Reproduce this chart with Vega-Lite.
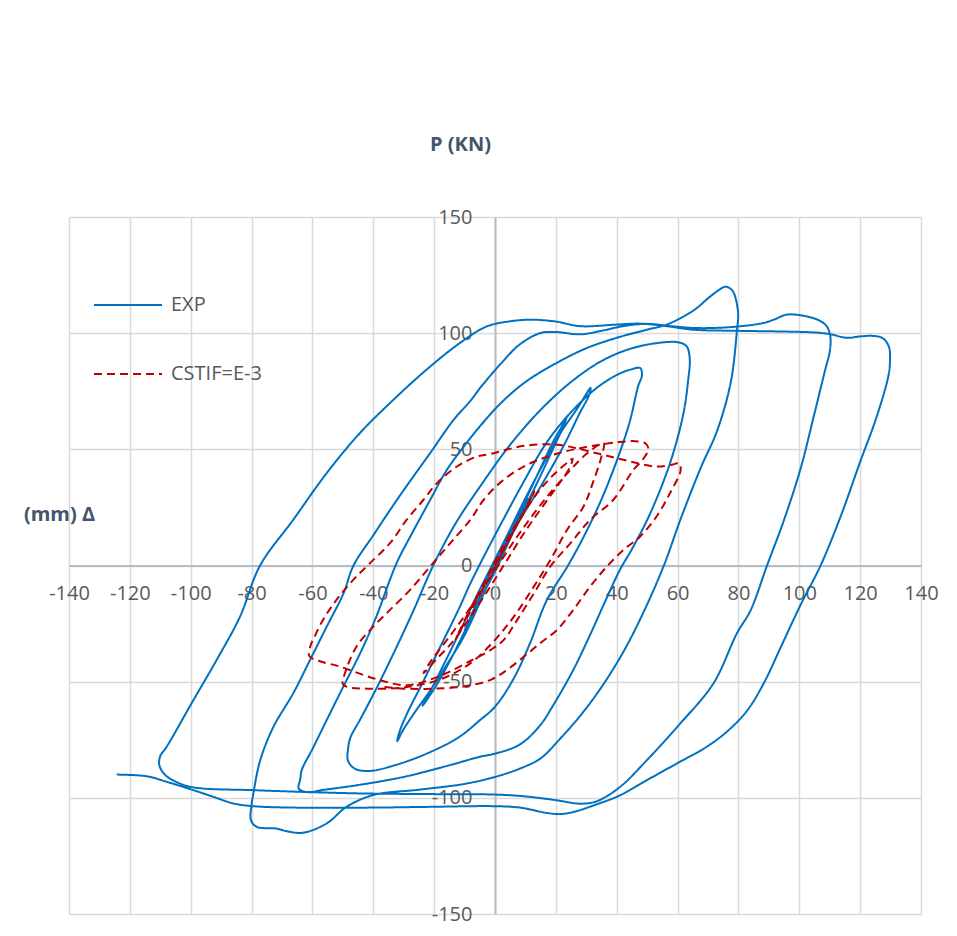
{
"$schema":"https://vega.github.io/schema/vega-lite/v6.json",
"width":852,"height":697,
"autosize":{"type":"none"},
"padding":{"left":69,"top":217,"right":36,"bottom":22},
"background":"white",
"config":{"view":{"stroke":null},"font":"Open Sans",
"legend":{"orient":"none","legendX":24,"legendY":53,"symbolType":"stroke","symbolSize":4624,"symbolStrokeWidth":2,"labelFontSize":20,"labelColor":"#595959","labelOffset":8,"rowPadding":24,"title":null,"labelFont":"Open Sans"}},
"data":{"values":[
{"s":"EXP","x":0,"y":0},{"s":"EXP","x":3,"y":8},{"s":"EXP","x":6,"y":16},{"s":"EXP","x":9,"y":24},{"s":"EXP","x":11,"y":29},{"s":"EXP","x":9,"y":24},{"s":"EXP","x":5,"y":12},{"s":"EXP","x":1,"y":0},{"s":"EXP","x":-3,"y":-10},{"s":"EXP","x":-7,"y":-20},{"s":"EXP","x":-10,"y":-28},{"s":"EXP","x":-8,"y":-22},{"s":"EXP","x":-4,"y":-10},{"s":"EXP","x":0,"y":1},{"s":"EXP","x":5,"y":14},{"s":"EXP","x":10,"y":28},{"s":"EXP","x":15,"y":42},{"s":"EXP","x":19,"y":53},{"s":"EXP","x":22,"y":60},{"s":"EXP","x":23.5,"y":63.8},
{"s":"EXP","x":22.5,"y":60},{"s":"EXP","x":19,"y":50},{"s":"EXP","x":14,"y":36},{"s":"EXP","x":8,"y":20},{"s":"EXP","x":3,"y":6},{"s":"EXP","x":-2,"y":-7},{"s":"EXP","x":-8,"y":-23},{"s":"EXP","x":-14,"y":-39},{"s":"EXP","x":-19,"y":-51},{"s":"EXP","x":-22.5,"y":-58},{"s":"EXP","x":-23.8,"y":-60.3},
{"s":"EXP","x":-22,"y":-56},{"s":"EXP","x":-17,"y":-43},{"s":"EXP","x":-11,"y":-27},{"s":"EXP","x":-6,"y":-13},{"s":"EXP","x":-1,"y":0},{"s":"EXP","x":4,"y":13},{"s":"EXP","x":10,"y":29},{"s":"EXP","x":16,"y":44},{"s":"EXP","x":22,"y":58},{"s":"EXP","x":27,"y":67.5},{"s":"EXP","x":31.4,"y":76.4},
{"s":"EXP","x":30.8,"y":73},{"s":"EXP","x":28,"y":66},{"s":"EXP","x":22.5,"y":51.4},{"s":"EXP","x":15,"y":34},{"s":"EXP","x":8.2,"y":19.6},{"s":"EXP","x":3,"y":7},{"s":"EXP","x":-1,"y":-4},{"s":"EXP","x":-5,"y":-16},{"s":"EXP","x":-10.4,"y":-31},{"s":"EXP","x":-16,"y":-43},{"s":"EXP","x":-21.4,"y":-54},{"s":"EXP","x":-26.8,"y":-64},{"s":"EXP","x":-30.5,"y":-71.5},{"s":"EXP","x":-32.1,"y":-75.6},
{"s":"EXP","x":-31.5,"y":-72},{"s":"EXP","x":-29,"y":-64},{"s":"EXP","x":-24,"y":-51},{"s":"EXP","x":-18,"y":-35},{"s":"EXP","x":-12,"y":-19},{"s":"EXP","x":-8.2,"y":-8},{"s":"EXP","x":-4,"y":3},{"s":"EXP","x":2,"y":18},{"s":"EXP","x":9,"y":35},{"s":"EXP","x":17,"y":53},{"s":"EXP","x":25,"y":66},{"s":"EXP","x":33,"y":76},{"s":"EXP","x":40,"y":82},{"s":"EXP","x":45,"y":84.5},{"s":"EXP","x":47.7,"y":85},
{"s":"EXP","x":48.3,"y":82},{"s":"EXP","x":47,"y":77},{"s":"EXP","x":44.3,"y":62},{"s":"EXP","x":40,"y":45},{"s":"EXP","x":34.5,"y":27},{"s":"EXP","x":29,"y":12},{"s":"EXP","x":24,"y":0},{"s":"EXP","x":17,"y":-15},{"s":"EXP","x":11.5,"y":-33.5},{"s":"EXP","x":6,"y":-49},{"s":"EXP","x":0,"y":-60.8},{"s":"EXP","x":-4.9,"y":-66.5},{"s":"EXP","x":-12,"y":-74},{"s":"EXP","x":-22.5,"y":-81},{"s":"EXP","x":-33,"y":-86},{"s":"EXP","x":-41,"y":-88.4},{"s":"EXP","x":-46,"y":-87.5},{"s":"EXP","x":-48.3,"y":-84},{"s":"EXP","x":-48.3,"y":-79},
{"s":"EXP","x":-47.5,"y":-74},{"s":"EXP","x":-44.4,"y":-66.5},{"s":"EXP","x":-39,"y":-53},{"s":"EXP","x":-33.4,"y":-38},{"s":"EXP","x":-27,"y":-20},{"s":"EXP","x":-20.3,"y":0},{"s":"EXP","x":-13,"y":18},{"s":"EXP","x":-4.9,"y":34},{"s":"EXP","x":5,"y":52},{"s":"EXP","x":15,"y":67},{"s":"EXP","x":25,"y":79},{"s":"EXP","x":35,"y":88},{"s":"EXP","x":45,"y":93.5},{"s":"EXP","x":55,"y":96},{"s":"EXP","x":60.5,"y":96},{"s":"EXP","x":63,"y":94.3},
{"s":"EXP","x":64,"y":89},{"s":"EXP","x":63.5,"y":80},{"s":"EXP","x":61.9,"y":65.3},{"s":"EXP","x":57.5,"y":44},{"s":"EXP","x":51,"y":22.4},{"s":"EXP","x":45.4,"y":8},{"s":"EXP","x":41,"y":-2},{"s":"EXP","x":36.7,"y":-14},{"s":"EXP","x":31.2,"y":-30},{"s":"EXP","x":25.7,"y":-45},{"s":"EXP","x":19.2,"y":-60},{"s":"EXP","x":14.7,"y":-69},{"s":"EXP","x":8.2,"y":-77},{"s":"EXP","x":0,"y":-81},{"s":"EXP","x":-4.9,"y":-82.3},{"s":"EXP","x":-15,"y":-86},{"s":"EXP","x":-30,"y":-91},{"s":"EXP","x":-45,"y":-94.5},{"s":"EXP","x":-56,"y":-96.5},{"s":"EXP","x":-62,"y":-97.5},{"s":"EXP","x":-64.5,"y":-96},{"s":"EXP","x":-64,"y":-92},
{"s":"EXP","x":-63.5,"y":-88},{"s":"EXP","x":-60,"y":-79},{"s":"EXP","x":-55.3,"y":-66.5},{"s":"EXP","x":-49.8,"y":-52},{"s":"EXP","x":-44.4,"y":-38},{"s":"EXP","x":-39,"y":-22},{"s":"EXP","x":-34.5,"y":-6},{"s":"EXP","x":-32,"y":2},{"s":"EXP","x":-26.8,"y":15},{"s":"EXP","x":-21.4,"y":28},{"s":"EXP","x":-15.9,"y":41},{"s":"EXP","x":-9.2,"y":53},{"s":"EXP","x":-4.9,"y":60},{"s":"EXP","x":2,"y":70},{"s":"EXP","x":10,"y":79},{"s":"EXP","x":20,"y":87},{"s":"EXP","x":30,"y":93.5},{"s":"EXP","x":40,"y":98},{"s":"EXP","x":50,"y":101.5},{"s":"EXP","x":56,"y":103.5},{"s":"EXP","x":61,"y":106.5},{"s":"EXP","x":66,"y":110.5},{"s":"EXP","x":70,"y":115},{"s":"EXP","x":73.5,"y":118.5},{"s":"EXP","x":75.7,"y":120},{"s":"EXP","x":77.5,"y":119},
{"s":"EXP","x":78.6,"y":117},{"s":"EXP","x":79.9,"y":108.5},{"s":"EXP","x":79.5,"y":101},{"s":"EXP","x":77.5,"y":79},{"s":"EXP","x":73,"y":58},{"s":"EXP","x":67.7,"y":42.3},{"s":"EXP","x":61,"y":20},{"s":"EXP","x":55.5,"y":0},{"s":"EXP","x":48.7,"y":-20.4},{"s":"EXP","x":42,"y":-37.6},{"s":"EXP","x":34.5,"y":-53.3},{"s":"EXP","x":28,"y":-64.7},{"s":"EXP","x":21.3,"y":-74.7},{"s":"EXP","x":15,"y":-83},{"s":"EXP","x":8,"y":-87.5},{"s":"EXP","x":0,"y":-91},{"s":"EXP","x":-10,"y":-94},{"s":"EXP","x":-25,"y":-96.5},{"s":"EXP","x":-40,"y":-98.8},{"s":"EXP","x":-48.8,"y":-103.9},{"s":"EXP","x":-55.3,"y":-111},{"s":"EXP","x":-63,"y":-115},{"s":"EXP","x":-68,"y":-114.5},{"s":"EXP","x":-72,"y":-113.2},{"s":"EXP","x":-78.3,"y":-112.5},{"s":"EXP","x":-80.2,"y":-109.6},{"s":"EXP","x":-80,"y":-103},
{"s":"EXP","x":-79.4,"y":-98},{"s":"EXP","x":-77.2,"y":-84},{"s":"EXP","x":-72.8,"y":-69.4},{"s":"EXP","x":-66.3,"y":-55},{"s":"EXP","x":-60.8,"y":-40.7},{"s":"EXP","x":-55.3,"y":-26.3},{"s":"EXP","x":-49.8,"y":-12},{"s":"EXP","x":-46.5,"y":0},{"s":"EXP","x":-40,"y":13},{"s":"EXP","x":-33.4,"y":26},{"s":"EXP","x":-27,"y":38},{"s":"EXP","x":-21.3,"y":48.4},{"s":"EXP","x":-13.6,"y":62.7},{"s":"EXP","x":-8,"y":71},{"s":"EXP","x":-4.9,"y":76.4},{"s":"EXP","x":2,"y":87},{"s":"EXP","x":8,"y":95},{"s":"EXP","x":14.8,"y":100},{"s":"EXP","x":20,"y":100.5},{"s":"EXP","x":28,"y":99.5},{"s":"EXP","x":35,"y":101},{"s":"EXP","x":42,"y":103},{"s":"EXP","x":50,"y":104},{"s":"EXP","x":58,"y":103},{"s":"EXP","x":66.3,"y":102.2},{"s":"EXP","x":77.3,"y":102.6},{"s":"EXP","x":88.3,"y":104.4},{"s":"EXP","x":92,"y":106},{"s":"EXP","x":95.9,"y":108},{"s":"EXP","x":102.5,"y":107.2},{"s":"EXP","x":106.5,"y":105.5},{"s":"EXP","x":109,"y":103},{"s":"EXP","x":110.2,"y":98.6},
{"s":"EXP","x":110,"y":92},{"s":"EXP","x":108.6,"y":84.7},{"s":"EXP","x":104.7,"y":63.9},{"s":"EXP","x":100.4,"y":41.6},{"s":"EXP","x":94.9,"y":19.3},{"s":"EXP","x":89.4,"y":0},{"s":"EXP","x":84,"y":-19.3},{"s":"EXP","x":79.5,"y":-29.2},{"s":"EXP","x":71.8,"y":-50.7},{"s":"EXP","x":60.9,"y":-68},{"s":"EXP","x":49.9,"y":-83.8},{"s":"EXP","x":41.1,"y":-95.3},{"s":"EXP","x":33.4,"y":-101.5},{"s":"EXP","x":28,"y":-102.5},{"s":"EXP","x":20,"y":-101},{"s":"EXP","x":9.3,"y":-99.3},{"s":"EXP","x":0,"y":-98.6},{"s":"EXP","x":-20,"y":-98.4},{"s":"EXP","x":-44.4,"y":-98.1},{"s":"EXP","x":-64.1,"y":-97.4},{"s":"EXP","x":-79.4,"y":-96.7},{"s":"EXP","x":-99.1,"y":-95.5},{"s":"EXP","x":-105,"y":-93},{"s":"EXP","x":-108.5,"y":-90},{"s":"EXP","x":-110.3,"y":-86},
{"s":"EXP","x":-110,"y":-82},{"s":"EXP","x":-107.9,"y":-78},{"s":"EXP","x":-99.1,"y":-57.9},{"s":"EXP","x":-91.5,"y":-40.7},{"s":"EXP","x":-83.8,"y":-22},{"s":"EXP","x":-77.2,"y":0},{"s":"EXP","x":-66.3,"y":19.7},{"s":"EXP","x":-55.3,"y":39.8},{"s":"EXP","x":-44.4,"y":57},{"s":"EXP","x":-33.4,"y":71.3},{"s":"EXP","x":-22.5,"y":84.3},{"s":"EXP","x":-11.5,"y":95.8},{"s":"EXP","x":-2.7,"y":102.9},{"s":"EXP","x":4.9,"y":105.1},{"s":"EXP","x":12,"y":105.8},{"s":"EXP","x":20,"y":105},{"s":"EXP","x":28,"y":103},{"s":"EXP","x":38.9,"y":103.6},{"s":"EXP","x":47.7,"y":104.1},{"s":"EXP","x":56.5,"y":103},{"s":"EXP","x":65,"y":101.5},{"s":"EXP","x":80,"y":101},{"s":"EXP","x":95,"y":100.7},{"s":"EXP","x":105,"y":100.3},{"s":"EXP","x":110,"y":99.6},{"s":"EXP","x":115.6,"y":98},{"s":"EXP","x":120,"y":98.6},{"s":"EXP","x":124.4,"y":98.8},{"s":"EXP","x":127.5,"y":97.8},{"s":"EXP","x":129.5,"y":94},{"s":"EXP","x":129.8,"y":88},{"s":"EXP","x":129.3,"y":81.7},{"s":"EXP","x":125.4,"y":63.9},{"s":"EXP","x":120,"y":44.6},{"s":"EXP","x":113.5,"y":20.8},{"s":"EXP","x":107,"y":0},
{"s":"EXP","x":100.4,"y":-17},{"s":"EXP","x":93.8,"y":-35.5},{"s":"EXP","x":88.4,"y":-50.5},{"s":"EXP","x":82.9,"y":-62.4},{"s":"EXP","x":76.4,"y":-71.3},{"s":"EXP","x":69.6,"y":-78},{"s":"EXP","x":59.8,"y":-85.2},{"s":"EXP","x":49.9,"y":-92.4},{"s":"EXP","x":41.1,"y":-98.9},{"s":"EXP","x":33,"y":-103},{"s":"EXP","x":26,"y":-106},{"s":"EXP","x":21.4,"y":-107},{"s":"EXP","x":17,"y":-106.5},{"s":"EXP","x":8.2,"y":-104.2},{"s":"EXP","x":0,"y":-103.6},{"s":"EXP","x":-22.5,"y":-103.9},{"s":"EXP","x":-40,"y":-104.2},{"s":"EXP","x":-66.3,"y":-104.2},{"s":"EXP","x":-79.4,"y":-103.6},{"s":"EXP","x":-86,"y":-102.4},{"s":"EXP","x":-92.5,"y":-99.6},{"s":"EXP","x":-99.1,"y":-96.7},{"s":"EXP","x":-107.9,"y":-93.1},{"s":"EXP","x":-114.5,"y":-90.7},{"s":"EXP","x":-124.3,"y":-90},
{"s":"CSTIF=E-3","x":0,"y":0},{"s":"CSTIF=E-3","x":5,"y":12},{"s":"CSTIF=E-3","x":10,"y":24},{"s":"CSTIF=E-3","x":13,"y":32},{"s":"CSTIF=E-3","x":9,"y":22},{"s":"CSTIF=E-3","x":3,"y":7},{"s":"CSTIF=E-3","x":-3,"y":-8},{"s":"CSTIF=E-3","x":-9,"y":-22},{"s":"CSTIF=E-3","x":-13,"y":-32},{"s":"CSTIF=E-3","x":-9,"y":-21},{"s":"CSTIF=E-3","x":-3,"y":-6},{"s":"CSTIF=E-3","x":3,"y":9},{"s":"CSTIF=E-3","x":9,"y":22},{"s":"CSTIF=E-3","x":15,"y":33},{"s":"CSTIF=E-3","x":20,"y":40},{"s":"CSTIF=E-3","x":24,"y":44.5},{"s":"CSTIF=E-3","x":25.5,"y":46},
{"s":"CSTIF=E-3","x":24.5,"y":42},{"s":"CSTIF=E-3","x":20.4,"y":34},{"s":"CSTIF=E-3","x":14.9,"y":24},{"s":"CSTIF=E-3","x":9.5,"y":13.9},{"s":"CSTIF=E-3","x":4,"y":2.4},{"s":"CSTIF=E-3","x":-2,"y":-10},{"s":"CSTIF=E-3","x":-8,"y":-22},{"s":"CSTIF=E-3","x":-14,"y":-33},{"s":"CSTIF=E-3","x":-19,"y":-40},{"s":"CSTIF=E-3","x":-23.5,"y":-46.3},
{"s":"CSTIF=E-3","x":-21.5,"y":-42},{"s":"CSTIF=E-3","x":-19.1,"y":-37.7},{"s":"CSTIF=E-3","x":-12.5,"y":-26.3},{"s":"CSTIF=E-3","x":-6,"y":-14},{"s":"CSTIF=E-3","x":0,"y":-2},{"s":"CSTIF=E-3","x":6,"y":10},{"s":"CSTIF=E-3","x":12,"y":21},{"s":"CSTIF=E-3","x":18,"y":31},{"s":"CSTIF=E-3","x":24,"y":40},{"s":"CSTIF=E-3","x":30,"y":48},{"s":"CSTIF=E-3","x":35.7,"y":52.7},
{"s":"CSTIF=E-3","x":35,"y":47},{"s":"CSTIF=E-3","x":32,"y":35},{"s":"CSTIF=E-3","x":29.1,"y":25.4},{"s":"CSTIF=E-3","x":23.7,"y":15.4},{"s":"CSTIF=E-3","x":18.2,"y":2.4},{"s":"CSTIF=E-3","x":12.8,"y":-9},{"s":"CSTIF=E-3","x":6.2,"y":-22},{"s":"CSTIF=E-3","x":0,"y":-32},{"s":"CSTIF=E-3","x":-8,"y":-42},{"s":"CSTIF=E-3","x":-18,"y":-49},{"s":"CSTIF=E-3","x":-30,"y":-52.5},{"s":"CSTIF=E-3","x":-42,"y":-53},{"s":"CSTIF=E-3","x":-48,"y":-52.5},{"s":"CSTIF=E-3","x":-50,"y":-51},
{"s":"CSTIF=E-3","x":-49.3,"y":-46.3},{"s":"CSTIF=E-3","x":-45.5,"y":-34.9},{"s":"CSTIF=E-3","x":-40,"y":-26.3},{"s":"CSTIF=E-3","x":-34.5,"y":-19.1},{"s":"CSTIF=E-3","x":-27.9,"y":-10.5},{"s":"CSTIF=E-3","x":-21.3,"y":-0.4},{"s":"CSTIF=E-3","x":-14.7,"y":9.6},{"s":"CSTIF=E-3","x":-8.1,"y":19.7},{"s":"CSTIF=E-3","x":-3.7,"y":28.3},{"s":"CSTIF=E-3","x":2,"y":36},{"s":"CSTIF=E-3","x":10,"y":43},{"s":"CSTIF=E-3","x":20,"y":48},{"s":"CSTIF=E-3","x":30,"y":51},{"s":"CSTIF=E-3","x":40,"y":53},{"s":"CSTIF=E-3","x":46,"y":53.5},{"s":"CSTIF=E-3","x":49.5,"y":52.5},{"s":"CSTIF=E-3","x":50.4,"y":50},
{"s":"CSTIF=E-3","x":48.5,"y":45.5},{"s":"CSTIF=E-3","x":45.5,"y":41.2},{"s":"CSTIF=E-3","x":38.9,"y":28.3},{"s":"CSTIF=E-3","x":31.3,"y":19.7},{"s":"CSTIF=E-3","x":24.8,"y":9.6},{"s":"CSTIF=E-3","x":18.2,"y":-0.4},{"s":"CSTIF=E-3","x":12.8,"y":-12},{"s":"CSTIF=E-3","x":7.3,"y":-23.4},{"s":"CSTIF=E-3","x":2.9,"y":-32},{"s":"CSTIF=E-3","x":-1.4,"y":-36.3},{"s":"CSTIF=E-3","x":-8,"y":-41},{"s":"CSTIF=E-3","x":-18,"y":-47.5},{"s":"CSTIF=E-3","x":-29,"y":-51.5},{"s":"CSTIF=E-3","x":-40,"y":-48.5},{"s":"CSTIF=E-3","x":-51,"y":-43.5},{"s":"CSTIF=E-3","x":-58,"y":-41},{"s":"CSTIF=E-3","x":-61,"y":-39},
{"s":"CSTIF=E-3","x":-60.5,"y":-34},{"s":"CSTIF=E-3","x":-59.8,"y":-32},{"s":"CSTIF=E-3","x":-56.5,"y":-23.4},{"s":"CSTIF=E-3","x":-52.1,"y":-14.8},{"s":"CSTIF=E-3","x":-46.6,"y":-6.2},{"s":"CSTIF=E-3","x":-41.1,"y":1},{"s":"CSTIF=E-3","x":-34.5,"y":9.6},{"s":"CSTIF=E-3","x":-29,"y":19.7},{"s":"CSTIF=E-3","x":-23.5,"y":28.3},{"s":"CSTIF=E-3","x":-19.1,"y":35.4},{"s":"CSTIF=E-3","x":-12.5,"y":42.6},{"s":"CSTIF=E-3","x":-5.9,"y":46.9},{"s":"CSTIF=E-3","x":-1.5,"y":48},{"s":"CSTIF=E-3","x":9.5,"y":51.5},{"s":"CSTIF=E-3","x":20.4,"y":52},{"s":"CSTIF=E-3","x":31.3,"y":49},{"s":"CSTIF=E-3","x":42.2,"y":45.5},{"s":"CSTIF=E-3","x":53,"y":42.6},{"s":"CSTIF=E-3","x":58.5,"y":43.5},{"s":"CSTIF=E-3","x":60.5,"y":44},{"s":"CSTIF=E-3","x":61,"y":41},
{"s":"CSTIF=E-3","x":57.5,"y":31.1},{"s":"CSTIF=E-3","x":53.1,"y":21.1},{"s":"CSTIF=E-3","x":47.7,"y":12.5},{"s":"CSTIF=E-3","x":42.2,"y":6.7},{"s":"CSTIF=E-3","x":36.8,"y":-0.4},{"s":"CSTIF=E-3","x":31.3,"y":-9},{"s":"CSTIF=E-3","x":25.8,"y":-19},{"s":"CSTIF=E-3","x":20.4,"y":-27.7},{"s":"CSTIF=E-3","x":14.9,"y":-33.4},{"s":"CSTIF=E-3","x":9.5,"y":-39.2},{"s":"CSTIF=E-3","x":4,"y":-44.9},{"s":"CSTIF=E-3","x":-1.4,"y":-49.2},{"s":"CSTIF=E-3","x":-10,"y":-52},{"s":"CSTIF=E-3","x":-20,"y":-53},{"s":"CSTIF=E-3","x":-30,"y":-53},{"s":"CSTIF=E-3","x":-38,"y":-52}
]},
"mark":{"type":"line","interpolate":"catmull-rom","strokeWidth":2},
"encoding":{
"x":{"field":"x","type":"quantitative","scale":{"domain":[-140,140],"nice":false,"zero":false},
"axis":{"orient":"bottom","offset":-348.5,"values":[-140,-120,-100,-80,-60,-40,-20,0,20,40,60,80,100,120,140],"labelExpr":"replace(datum.label, '−', '-')","grid":true,"gridColor":"#d9d9d9","gridWidth":1.5,"domainColor":"#b4bccc","domainWidth":2,"ticks":false,"labelFontSize":20,"labelColor":"#595959","labelPadding":18,"labelFlush":false,"labelOverlap":false,"labelFont":"Open Sans",
"title":"(mm) Δ","titleFontSize":20,"titleFontWeight":"bold","titleColor":"#44546a","titleFont":"Open Sans","titleX":-10,"titleY":-51,"titleAlign":"center","titleBaseline":"middle","titleAngle":0}},
"y":{"field":"y","type":"quantitative","scale":{"domain":[-150,150],"nice":false,"zero":false},
"axis":{"orient":"left","offset":-426,"values":[-150,-100,-50,0,50,100,150],"labelExpr":"replace(datum.label, '−', '-')","grid":true,"gridColor":"#d9d9d9","gridWidth":1.5,"domainColor":"#b4bccc","domainWidth":2,"ticks":false,"labelFontSize":20,"labelColor":"#595959","labelPadding":23,"labelFlush":false,"labelOverlap":false,"labelFont":"Open Sans",
"title":"P (KN)","titleFontSize":20,"titleFontWeight":"bold","titleColor":"#44546a","titleFont":"Open Sans","titleX":-35,"titleY":-73,"titleAlign":"center","titleBaseline":"middle","titleAngle":0}},
"color":{"field":"s","type":"nominal","scale":{"domain":["EXP","CSTIF=E-3"],"range":["#0070c0","#c00000"]}},
"strokeDash":{"field":"s","type":"nominal","scale":{"domain":["EXP","CSTIF=E-3"],"range":[[1,0],[8,5]]}},
"order":{"value":null}
}
}
